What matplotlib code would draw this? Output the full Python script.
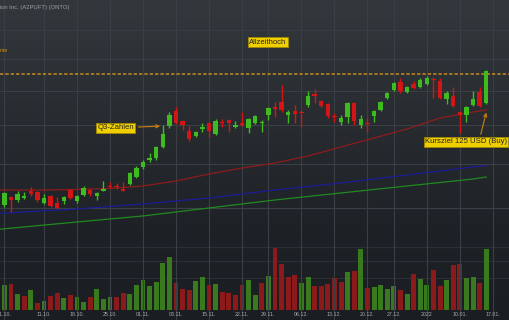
import numpy as np
import matplotlib.pyplot as plt
from matplotlib.colors import LinearSegmentedColormap

plt.rcParams['font.family'] = ['Liberation Sans', 'DejaVu Sans']

# Onto Innovation (ONTO), Tageskerzen ab 01.10.2021 (Handelstag-Index -1 .. 72)
first_day = -1
opens = [70.70, 72.43, 71.77, 72.21, 73.75, 73.53, 71.13, 72.65, 71.13, 71.56,
         73.97, 71.56, 72.87, 73.97, 72.65, 73.75, 74.70, 74.88, 74.20, 75.34,
         76.95, 79.32, 81.01, 81.51, 84.27, 89.81, 93.98, 91.18, 88.45, 87.13,
         88.99, 90.63, 87.66, 90.90, 91.45, 89.54, 90.63, 89.27, 90.63, 90.58,
         92.86, 95.13, 96.58, 92.86, 93.98, 93.70, 95.71, 98.95, 96.87, 96.00,
         92.57, 90.90, 92.29, 96.29, 90.09, 90.63, 92.57, 94.26, 97.76, 100.15,
         102.59, 99.55, 101.98, 101.07, 101.98, 103.52, 102.90, 97.46, 98.36, 93.70,
         92.86, 95.71, 99.55, 96.29]
highs = [73.53, 72.65, 73.75, 73.53, 74.65, 73.75, 73.09, 72.87, 72.43, 72.65,
         74.20, 72.87, 74.88, 74.20, 73.53, 76.02, 75.79, 75.57, 75.79, 78.12,
         79.56, 81.01, 82.75, 84.53, 90.09, 93.70, 95.13, 91.45, 89.81, 88.45,
         90.63, 90.90, 91.73, 91.73, 91.73, 91.18, 93.70, 92.01, 92.86, 91.45,
         95.13, 96.58, 101.68, 94.26, 95.71, 94.26, 99.85, 100.46, 97.16, 96.29,
         93.42, 92.86, 96.58, 96.58, 92.86, 92.01, 94.26, 96.87, 99.55, 102.59,
         103.84, 101.37, 102.90, 103.84, 104.48, 104.16, 103.84, 99.85, 101.07, 93.98,
         95.42, 99.85, 101.07, 106.40]
lows = [70.27, 69.21, 71.34, 71.99, 72.65, 71.34, 70.91, 70.27, 69.84, 70.91,
        71.99, 71.13, 72.65, 72.65, 71.77, 73.64, 74.43, 74.20, 73.75, 75.11,
        76.72, 78.83, 80.53, 81.01, 84.01, 89.27, 90.36, 88.72, 85.81, 86.87,
        88.19, 86.87, 87.40, 89.54, 88.19, 89.27, 89.81, 87.92, 90.36, 88.19,
        91.45, 92.29, 93.70, 90.63, 90.63, 89.54, 95.13, 96.29, 95.13, 92.01,
        90.90, 90.09, 90.63, 90.09, 89.27, 88.19, 90.90, 93.98, 97.46, 99.85,
        99.25, 99.25, 100.46, 100.76, 101.68, 97.76, 97.46, 96.00, 95.13, 87.92,
        90.90, 95.42, 95.13, 96.00]
closes = [73.31, 71.77, 73.09, 72.65, 73.09, 71.77, 72.21, 70.48, 70.05, 72.43,
          72.21, 72.65, 74.43, 73.09, 73.31, 74.20, 74.59, 74.54, 73.86, 77.89,
          79.07, 80.53, 81.51, 84.27, 87.66, 92.86, 90.63, 90.09, 86.34, 88.19,
          89.54, 88.45, 91.18, 90.63, 90.50, 90.09, 89.95, 91.73, 92.57, 90.68,
          94.84, 94.55, 94.26, 93.70, 93.14, 93.42, 98.36, 98.21, 95.42, 92.57,
          92.15, 92.01, 96.29, 91.18, 91.73, 90.36, 93.98, 96.58, 99.25, 102.29,
          99.85, 101.07, 100.76, 103.20, 103.84, 103.20, 97.76, 99.25, 95.42, 92.86,
          95.13, 97.46, 95.42, 106.08]
volume = [250, 260, 160, 140, 200, 70, 90, 140, 170, 120,
          150, 130, 80, 130, 210, 110, 130, 130, 170, 160,
          250, 300, 240, 280, 470, 530, 270, 210, 200, 290,
          330, 250, 260, 180, 170, 150, 250, 300, 150, 270,
          340, 620, 460, 330, 350, 270, 330, 240, 240, 260,
          320, 280, 380, 390, 610, 220, 230, 250, 210, 240,
          200, 160, 360, 310, 250, 400, 240, 300, 450, 460,
          320, 330, 270, 610]  # Tsd. Stueck

# gleitende Durchschnitte
ma_days = [-2, 0, 5, 10, 15, 20, 25, 30, 35, 40, 45, 50, 55, 60, 65, 70, 72]
ma_red = [73.97, 73.97, 73.97, 74.09, 74.32, 74.88, 76.02, 77.65, 79.07, 80.28,
          82.01, 84.27, 86.60, 88.99, 92.01, 93.70, 94.26]
ma2_days = [-2, 10, 20, 30, 40, 50, 60, 70, 72]
ma_blue = [68.90, 69.84, 70.91, 72.21, 73.97, 75.57, 77.42, 79.32, 79.68]
ma_green = [65.65, 67.14, 68.38, 70.05, 71.77, 73.31, 74.88, 76.48, 76.95]

all_time_high = 105.12
tick_days = [-1, 5, 10, 15, 20, 25, 30, 35, 39, 44, 49, 54, 58, 63, 68, 73]
tick_labels = ['01.10.', '11.10.', '18.10.', '25.10.', '01.11.', '08.11.', '15.11.',
               '22.11.', '29.11.', '06.12.', '13.12.', '20.12.', '27.12.', '2022',
               '10.01.', '17.01.']

days = np.arange(first_day, first_day + len(opens))
o = np.array(opens); h = np.array(highs); l = np.array(lows); c = np.array(closes)
up = c >= o

fig = plt.figure(figsize=(5.1, 3.2), dpi=100)

# Hintergrund mit Verlauf
bg = fig.add_axes([0, 0, 1, 1], zorder=0)
cmap = LinearSegmentedColormap.from_list('bg', [(0, '#33383d'), (0.72, '#1e2125'), (1, '#1a1d21')])
bg.imshow(np.linspace(0, 1, 256).reshape(-1, 1), aspect='auto', cmap=cmap, extent=[0, 1, 1, 0])
bg.axis('off')

ax = fig.add_axes([0, 0, 1, 1], zorder=2)
ax.patch.set_alpha(0)
ax.set_yscale('log')
ax.set_ylim(49.89, 131.55)
ax.set_xlim(-1.667, 75.6)

vax = fig.add_axes([0, 10 / 320, 1, 80 / 320], zorder=1, sharex=ax)
vax.patch.set_alpha(0)
vax.set_ylim(0, 800)

# Raster
grid_col = '#3a3f45'
for d in tick_days:
    ax.axvline(d, color=grid_col, lw=0.8, zorder=0)
for p in [70, 80, 90, 100, 110, 120]:
    ax.axhline(p, color=grid_col, lw=0.8, zorder=0)
for v in [320, 490, 630]:
    vax.axhline(v, color='#2c3036', lw=0.8, zorder=0)

# Volumen
prev = np.concatenate([[o[0]], c[:-1]])
vcol = np.where(c >= prev, '#3a7a1e', '#8c1a1a')
vax.bar(days, volume, width=0.75, color=vcol, zorder=2)

# Durchschnitte
ax.plot(ma_days, ma_red, color='#8e1c1c', lw=0.9, zorder=3)
ax.plot(ma2_days, ma_blue, color='#1c1c96', lw=0.9, zorder=3)
ax.plot(ma2_days, ma_green, color='#208a20', lw=0.9, zorder=3)

# Kerzen
col = np.where(up, '#3dbb1f', '#d41515')
ax.vlines(days, l, h, colors=col, lw=1.0, zorder=4)
body_lo = np.minimum(o, c)
body_h = np.maximum(np.abs(c - o), o * 0.003)
ax.bar(days, body_h, bottom=body_lo, width=0.68, color=col, zorder=5)

ax.axhline(all_time_high, color='#c88a1c', lw=1.1, ls=(0, (2.2, 1.3)), zorder=3)

box = dict(boxstyle='square,pad=0.15', fc='#f0cf00', ec='#a08a00', lw=0.6)
ax.text(38.9, 115.8, 'Allzeithoch', fontsize=5.5, color='#222222', ha='center', va='center', bbox=box, zorder=6)
ax.annotate('Q3-Zahlen', xy=(23.0, 89.8), xytext=(15.9, 89.27), fontsize=5.6, color='#222222',
            ha='center', va='center', bbox=box, zorder=6,
            arrowprops=dict(arrowstyle='->', color='#c8800f', lw=0.8))
ax.annotate('Kursziel 125 USD (Buy)', xy=(72.1, 94.3), xytext=(68.9, 85.56), fontsize=5.6, color='#222222',
            ha='center', va='center', bbox=box, zorder=6,
            arrowprops=dict(arrowstyle='->', color='#c8800f', lw=0.8, relpos=(0.67, 1)))

for d, t in zip(tick_days, tick_labels):
    ax.text(d, 1 - 314.5 / 320, t, transform=ax.get_xaxis_transform(), fontsize=3.8,
            color='#a8acb0', ha='center', va='center')

fig.text(69 / 510, 1 - 7 / 320, 'Onto Innovation Inc. (A2PUFT) (ONTO)', fontsize=4.2,
         color='#9ba0a5', ha='right', va='center')
fig.text(8 / 510, 1 - 50 / 320, 'Allzeithoch-Linie', fontsize=4.0, color='#d4900a',
         ha='right', va='center')

for a in (ax, vax):
    a.set_xticks([]); a.set_yticks([]); a.minorticks_off()
    for s in a.spines.values():
        s.set_visible(False)
ax.yaxis.set_minor_locator(plt.NullLocator())

plt.savefig('out.png', dpi=100)
